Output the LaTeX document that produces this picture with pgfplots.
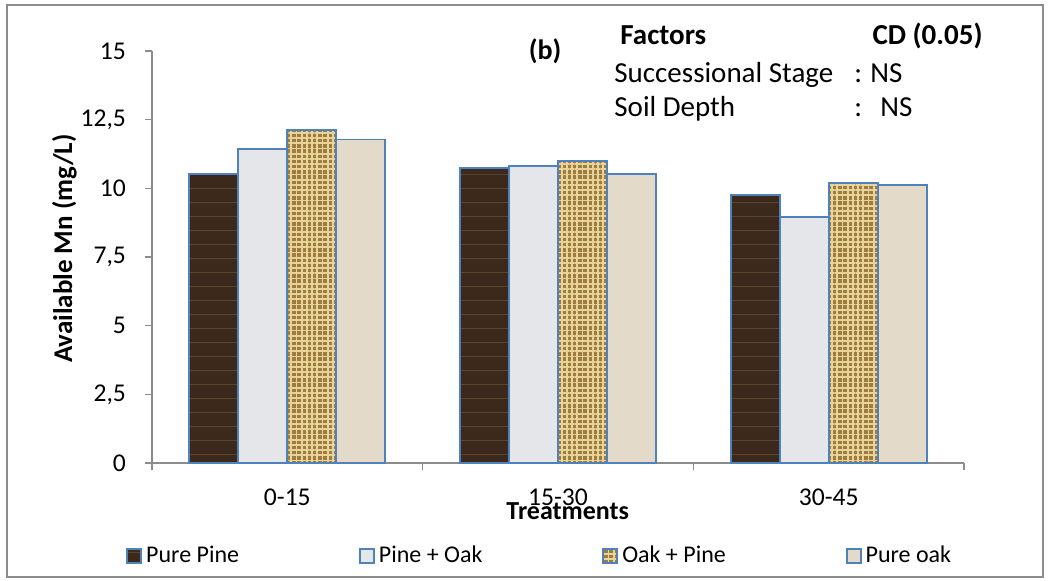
\documentclass[border=0pt]{standalone}
\usepackage{fontspec}
\setmainfont{Carlito}
\usepackage{pgfplots}
\pgfplotsset{compat=1.18}
\usetikzlibrary{patterns,patterns.meta}

\definecolor{barblue}{HTML}{4F81BD}
\definecolor{pinebrown}{HTML}{3B2A1C}
\definecolor{pinegrain}{HTML}{5A4530}
\definecolor{marble}{HTML}{E4E6EA}
\definecolor{burlap}{HTML}{9E7C3E}
\definecolor{burlaplight}{HTML}{E8D39A}
\definecolor{sand}{HTML}{E3DACA}
\definecolor{axisgray}{HTML}{8C8C8C}

\begin{document}
\begin{tikzpicture}[x=1pt,y=1pt]
\useasboundingbox (0,0) rectangle (524.5,290);
\draw[axisgray, line width=0.7pt] (3.5,1.5) rectangle (521.5,287.5);
\begin{axis}[
    at={(76pt,58.5pt)}, anchor=south west,
    scale only axis, width=406pt, height=206pt,
    ybar=0pt, bar width=24.5pt,
    xmin=-0.5, xmax=2.5, ymin=0, ymax=15,
    xtick={0,1,2}, xticklabels={0-15,15-30,30-45},
    minor xtick={-0.5,0.5,1.5,2.5},
    major x tick style={draw=none},
    ytick={0,2.5,5,7.5,10,12.5,15},
    axis lines*=left,
    axis line style={axisgray, line width=0.8pt},
    tick style={axisgray, line width=0.8pt},
    tick align=outside,
    major tick length=3.5pt, minor tick length=3.5pt,
    /pgf/number format/.cd, use comma, fixed, assume math mode=true,
    /pgfplots/.cd,
    ticklabel style={font=\fontsize{12.8}{14}\selectfont},
    yticklabel style={xshift=-6pt},
    xticklabel style={yshift=-6pt},
    ylabel={Available Mn (mg/L)},
    ylabel style={font=\bfseries\fontsize{13.5}{15}\selectfont,
        at={(axis description cs:-0.108,0.52)}, anchor=center},
    xlabel={Treatments},
    xlabel style={font=\bfseries\fontsize{13}{15}\selectfont,
        at={(axis description cs:0.512,-0.1165)}, anchor=center},
    legend columns=4,
    legend cell align=left,
    legend image code/.code={\draw[#1] (0pt,-3.6pt) rectangle (7pt,3.6pt);},
    legend style={at={(axis description cs:-0.032,-0.2257)}, anchor=west,
        draw=none, fill=none, inner sep=0pt,
        font=\fontsize{12}{14}\selectfont,
        /tikz/every even column/.append style={column sep=58pt}},
]
\addplot[draw=barblue, line width=0.9pt, fill=pinebrown,
    postaction={pattern={Lines[angle=0, distance=7pt, line width=0.5pt]}, pattern color=pinegrain}]
    coordinates {(0,10.51) (1,10.73) (2,9.76)};
\addplot[draw=barblue, line width=0.9pt, fill=marble]
    coordinates {(0,11.42) (1,10.82) (2,8.97)};
\addplot[draw=barblue, line width=0.9pt, fill=burlap,
    postaction={pattern={Hatch[angle=0, distance=2.6pt, line width=0.9pt]}, pattern color=burlaplight}]
    coordinates {(0,12.12) (1,11.0) (2,10.2)};
\addplot[draw=barblue, line width=0.9pt, fill=sand]
    coordinates {(0,11.78) (1,10.51) (2,10.12)};
\legend{Pure Pine, Pine + Oak, Oak + Pine, Pure oak}
\end{axis}
\begin{scope}[every node/.style={inner sep=0pt}]
\node[font=\bfseries\fontsize{14}{16}\selectfont] at (272.5,264.5) {(b)};
\node[font=\bfseries\fontsize{14.5}{16}\selectfont, anchor=base west] at (310,268) {Factors};
\node[font=\bfseries\fontsize{14.5}{16}\selectfont, anchor=base east] at (491.5,268) {CD (0.05)};
\node[font=\fontsize{14.5}{16}\selectfont, anchor=base west] at (307,249) {Successional Stage};
\node[font=\fontsize{14.5}{16}\selectfont, anchor=base west] at (427,249) {:};
\node[font=\fontsize{14.5}{16}\selectfont, anchor=base west] at (435,249) {NS};
\node[font=\fontsize{14.5}{16}\selectfont, anchor=base west] at (307,232) {Soil Depth};
\node[font=\fontsize{14.5}{16}\selectfont, anchor=base west] at (427,232) {:};
\node[font=\fontsize{14.5}{16}\selectfont, anchor=base west] at (440,232) {NS};
\end{scope}
\end{tikzpicture}
\end{document}
